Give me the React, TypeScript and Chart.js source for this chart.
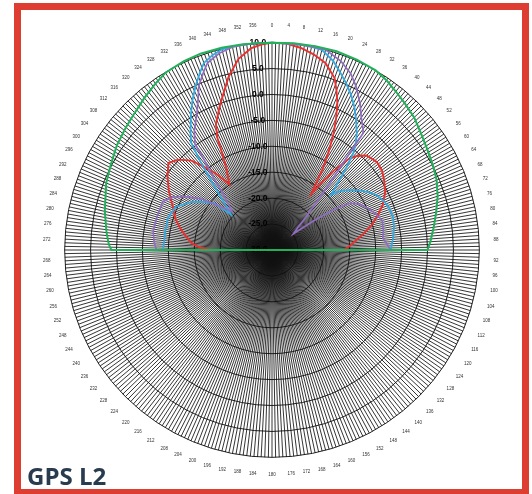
import React, { useEffect, useRef } from 'react';
import { Chart, registerables } from 'chart.js';

Chart.register(...registerables);

// Angular categories (degrees) and radial tick range (dB)
const DEGREES: string[] = Array.from({ length: 360 }, (_, i) => String(i));
const R_MIN = -30;
const R_MAX = 10;
const R_STEP = 5;

// Red series
const redAngles = [0, 4, 8, 12, 16, 20, 22, 24, 26, 28, 30, 32, 34, 35, 36, 38, 40, 42, 45, 50, 54, 58, 63, 68, 72, 76, 80, 84, 87, 90, 91,
  269, 270, 272, 275, 279, 283, 288, 294, 300, 305, 310, 314, 318, 321, 324, 327, 329, 331, 333, 334, 336, 340, 343, 346, 350, 354, 357];
const redValues = [10, 9.9, 9.4, 8.6, 7.5, 5.3, 3.2, 1, -1.8, -4.8, -8.2, -11.5, -15.5, -16.7, -14.5, -10.5, -7.2, -5.6, -4.2, -3.6, -3.8, -4.5, -5.5, -7, -8.6, -10.2, -12.1, -13.9, -15, -16.1, -30,
  -30, -18.3, -16, -14.4, -13.2, -11.9, -10.4, -9, -7, -5.4, -3.9, -4.9, -6.8, -9.5, -12, -14.9, -13.5, -11.7, -8.5, -6, -3.4, -0.5, 1.8, 4.5, 7.4, 9.1, 9.7];

// Blue series
const blueAngles = [0, 6, 10, 14, 18, 21, 24, 27, 30, 33, 36, 38, 40, 42, 44, 46, 47, 48, 50, 53, 56, 59, 62, 66, 70, 75, 80, 85, 90, 91,
  269, 270, 279, 287, 294, 301, 305, 309, 311, 314, 316, 319, 321, 323, 325, 329, 332, 335, 338, 340, 343, 346, 350, 355];
const blueValues = [10, 10, 10, 9.8, 8.3, 6.7, 5.2, 3.6, 1.8, -0.2, -2.2, -3.7, -5.6, -8.5, -11.3, -13.5, -14.5, -13.4, -12.2, -10.8, -9.5, -8.3, -7.3, -6.5, -6, -5.8, -6.1, -6.6, -7.1, -30,
  -30, -9, -9.1, -9, -9.6, -12, -13.8, -15.7, -19.5, -17.6, -15.7, -11.8, -8, -4.1, -2.6, 0.4, 2.7, 4.9, 7, 8.4, 9.3, 9.9, 10, 10];

// Purple series
const purpleAngles = [0, 8, 15, 20, 24, 27, 31, 34, 37, 38, 39, 41, 44, 47, 49, 53, 55, 57, 59, 62, 66, 70, 75, 80, 84, 87, 90, 91,
  269, 270, 274, 279, 286, 294, 298, 301, 306, 309, 314, 317, 319, 321, 323, 324, 327, 331, 334, 336, 339, 341, 345, 349, 354];
const purpleValues = [10, 10, 10, 8.8, 7.3, 5.6, 3, 0.8, -0.8, -1.5, -7.3, -13.2, -19, -21.9, -23.4, -24.8, -20, -15.5, -12.5, -11, -10, -9, -8, -8.2, -8.5, -7.8, -7.1, -30,
  -30, -7.7, -7.2, -6.8, -6.9, -7, -8.3, -9.9, -13.2, -16.3, -19.3, -17.5, -15.7, -12, -8.4, -4.7, -2.5, -0.1, 2.5, 4.7, 6.8, 8.2, 9.3, 9.9, 10];

// Green series
const greenAngles = [0, 6, 12, 18, 24, 30, 34, 38, 42, 47, 52, 57, 62, 67, 72, 77, 82, 87, 90, 91,
  269, 270, 272, 276, 283, 292, 298, 304, 310, 314, 320, 325, 329, 335, 340, 346, 352, 356];
const greenValues = [10, 10.1, 10.2, 10.3, 10.2, 10, 9.5, 8.8, 8.2, 7.5, 6.5, 5.7, 5.1, 4.5, 3.6, 2.5, 1.5, 0.6, 0, -30,
  -30, 1, 1.5, 2.1, 3.1, 4.5, 5.2, 6.1, 6.8, 7.3, 8.3, 9.2, 9.9, 10.2, 10.3, 10.2, 10.1, 10];

function buildSeries(angles: number[], values: number[]): (number | null)[] {
  const out: (number | null)[] = DEGREES.map(() => null);
  angles.forEach((a, i) => {
    out[a] = values[i];
  });
  return out;
}

export default function App() {
  const canvasRef = useRef<HTMLCanvasElement | null>(null);

  useEffect(() => {
    if (!canvasRef.current) return;
    const ds = (label: string, angles: number[], values: number[], color: string, width: number) => ({
      label,
      data: buildSeries(angles, values),
      borderColor: color,
      backgroundColor: color,
      borderWidth: width,
      fill: false,
      pointRadius: 0,
      pointHoverRadius: 0,
      spanGaps: true,
      tension: 0,
    });
    const chart = new Chart(canvasRef.current, {
      type: 'radar',
      data: {
        labels: DEGREES,
        datasets: [
          ds('Green', greenAngles, greenValues, '#22b05a', 2),
          ds('Purple', purpleAngles, purpleValues, '#8f6dbf', 1.7),
          ds('Blue', blueAngles, blueValues, '#33a9e0', 1.8),
          ds('Red', redAngles, redValues, '#e8312f', 1.9),
        ],
      },
      options: {
        responsive: false,
        animation: false,
        layout: { padding: { left: 12, top: 23, bottom: 16, right: 0 } },
        plugins: {
          legend: { display: false },
          tooltip: { enabled: false },
        },
        scales: {
          r: {
            min: R_MIN,
            max: R_MAX,
            startAngle: 0,
            ticks: {
              stepSize: R_STEP,
              showLabelBackdrop: false,
              color: '#000',
              font: { family: '"Liberation Sans", Arial, sans-serif', size: 8.5, weight: 'bold' },
              callback: (v: any) => Number(v).toFixed(1) + '            ',
            },
            grid: {
              circular: true,
              color: '#222',
              lineWidth: 1,
            },
            angleLines: {
              display: true,
              color: '#111',
              lineWidth: 0.85,
            },
            pointLabels: {
              display: true,
              padding: 8,
              color: '#333',
              font: { family: '"Liberation Sans", Arial, sans-serif', size: 4.5 },
              callback: (label: string, index: number) => (index % 4 === 0 ? label : ''),
            },
          },
        },
      },
    } as any);
    return () => chart.destroy();
  }, []);

  return (
    <div style={{ position: 'fixed', left: 0, top: 0, width: 532, height: 494, overflow: 'hidden', background: '#fff' }}>
      <div
        style={{
          position: 'absolute',
          left: 14,
          top: 3,
          width: 515,
          height: 493,
          boxSizing: 'border-box',
          border: '7px solid #de3d31',
        }}
      />
      <canvas
        ref={canvasRef}
        width={532}
        height={494}
        style={{ position: 'absolute', left: 0, top: 0, width: 532, height: 494 }}
      />
      <div
        style={{
          position: 'absolute',
          left: 27,
          top: 464,
          fontFamily: '"Open Sans", sans-serif',
          fontWeight: 700,
          fontSize: 24,
          lineHeight: '24px',
          color: '#293b4f',
          whiteSpace: 'nowrap',
        }}
      >
        GPS L2
      </div>
    </div>
  );
}
